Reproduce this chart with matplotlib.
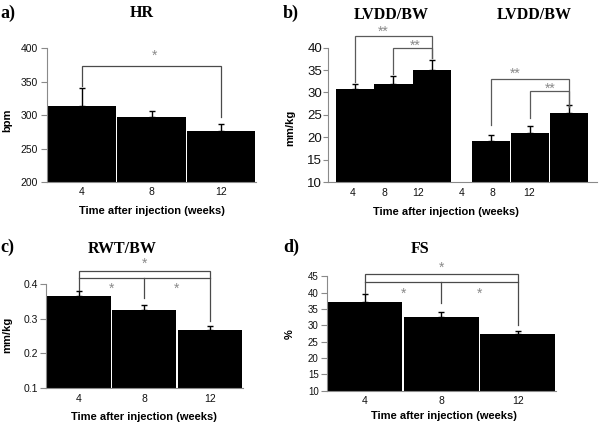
import matplotlib
matplotlib.use("Agg")
import matplotlib.pyplot as plt
import numpy as np

# ---------------- data ----------------
weeks = ['4', '8', '12']
hr_mean = [313, 296.5, 276]
hr_sem = [27.5, 9, 11]

lvdd_x = [0, 1, 2, 3.5, 4.5, 5.5]
lvdd_mean = [30.7, 32.0, 35.1, 19.2, 20.9, 25.35]
lvdd_sem = [1.3, 1.75, 2.1, 1.2, 1.5, 1.75]
lvdd_tick_labels = ['4', '8', '12', '4', '8', '12']
lvdd_tick_pos = [-0.05, 0.78, 1.63, 2.75, 3.55, 4.47]

rwt_mean = [0.366, 0.327, 0.268]
rwt_sem = [0.014, 0.012, 0.012]

fs_mean = [37.1, 32.45, 27.25]
fs_sem = [2.6, 1.65, 1.0]

SANS = 'Liberation Sans'
SERIF = 'Liberation Serif'
SPINE = '#8a8a8a'
BRK = '#4a4a4a'
STAR = '#8a8a8a'
STAR_SIZE = 10

W, H = 600, 424
fig = plt.figure(figsize=(6, 4.24), dpi=100)


def rect(x0, x1, y0, y1):
    return [x0 / W, 1 - y1 / H, (x1 - x0) / W, (y1 - y0) / H]


def style(ax, ysize, xsize, ylen, ypad, xpad):
    for s in ('top', 'right'):
        ax.spines[s].set_visible(False)
    for s in ('left', 'bottom'):
        ax.spines[s].set_color(SPINE)
        ax.spines[s].set_linewidth(0.8)
    ax.tick_params(axis='y', length=ylen, width=0.8, color=SPINE, pad=ypad,
                   labelsize=ysize, labelcolor='#111111')
    ax.tick_params(axis='x', length=0, pad=xpad, labelsize=xsize, labelcolor='#111111')
    for lab in ax.get_xticklabels() + ax.get_yticklabels():
        lab.set_fontfamily(SANS)


def draw_bars(ax, x, mean, sem, ymin, width):
    mean = np.asarray(mean, dtype=float)
    ax.bar(x, mean - ymin, bottom=ymin, width=width, color='black',
           edgecolor='none', zorder=2)
    ax.errorbar(x, mean, yerr=[np.zeros(len(sem)), sem], fmt='none',
                ecolor='black', elinewidth=1.0, capsize=2.5, capthick=1.0, zorder=3)


def bracket(ax, x0, x1, y, yl, yr, color=BRK, lw=0.9):
    ax.plot([x0, x0, x1, x1], [yl, y, y, yr], color=color, lw=lw,
            clip_on=False, solid_joinstyle='miter', zorder=4)


def star(ax, x, y, s='*'):
    ax.text(x, y, s, color=STAR, fontsize=STAR_SIZE, ha='center', va='center',
            family=SANS)


def labels(ax, xl, xlab_px, yl, ylab_px, rect_px, xsize=8, ysize=8):
    x0, x1, y0, y1 = rect_px
    ax.set_xlabel(xl, fontfamily=SANS, fontweight='bold', fontsize=xsize)
    ax.xaxis.label.set_va('center')
    ax.xaxis.set_label_coords((xlab_px[0] - x0) / (x1 - x0), (y1 - xlab_px[1]) / (y1 - y0))
    ax.set_ylabel(yl, fontfamily=SANS, fontweight='bold', fontsize=ysize)
    ax.yaxis.label.set_va('center')
    ax.yaxis.set_label_coords((ylab_px[0] - x0) / (x1 - x0), (y1 - ylab_px[1]) / (y1 - y0))


XLAB = 'Time after injection (weeks)'

# ---------------- panel a: HR ----------------
ra = (47, 256, 48, 182)
axa = fig.add_axes(rect(*ra))
xa = np.arange(3)
draw_bars(axa, xa, hr_mean, hr_sem, 200, 0.985)
axa.set_xlim(-0.5, 2.5)
axa.set_ylim(200, 400)
axa.set_yticks([200, 250, 300, 350, 400])
axa.set_xticks(xa)
axa.set_xticklabels(weeks)
style(axa, 7.5, 7.5, 4.5, 2.0, 3.5)
labels(axa, XLAB, (152, 211), 'bpm', (7, 120), ra)
bracket(axa, 0, 2, 373.5, 343, 297)
star(axa, 1.04, 389)

# ---------------- panel b: LVDD/BW ----------------
rb = (328, 597, 47.7, 182)
axb = fig.add_axes(rect(*rb))
draw_bars(axb, lvdd_x, lvdd_mean, lvdd_sem, 10, 0.975)
axb.set_xlim(-0.68, 6.22)
axb.set_ylim(10, 40)
axb.set_yticks([10, 15, 20, 25, 30, 35, 40])
axb.set_xticks(lvdd_tick_pos)
axb.set_xticklabels(lvdd_tick_labels)
style(axb, 9.5, 7.5, 3.5, 0.8, 4.0)
labels(axb, XLAB, (445.5, 211.5), 'mm/kg', (290, 128), rb)
bracket(axb, 0, 2, 42.6, 32.4, 37.6, color='#5a5a5a')
bracket(axb, 1, 2, 39.9, 34.1, 37.6, color='#5a5a5a')
bracket(axb, 3.5, 5.5, 32.9, 22.7, 26.8, color='#5a5a5a')
bracket(axb, 4.5, 5.5, 30.3, 24.2, 26.8, color='#5a5a5a')
for sx, sy in [(0.73, 43.5), (1.55, 40.5), (4.13, 34.1), (5.03, 30.9)]:
    star(axb, sx, sy, '**')

# ---------------- panel c: RWT/BW ----------------
rc = (46, 242.5, 284.3, 388)
axc = fig.add_axes(rect(*rc))
xc = np.arange(3)
draw_bars(axc, xc, rwt_mean, rwt_sem, 0.1, 0.98)
axc.set_xlim(-0.5, 2.5)
axc.set_ylim(0.1, 0.4)
axc.set_yticks([0.1, 0.2, 0.3, 0.4])
axc.set_xticks(xc)
axc.set_xticklabels(weeks)
style(axc, 7.5, 7.5, 4.5, 1.5, 4.0)
labels(axc, XLAB, (143.5, 417), 'mm/kg', (7, 335), rc)
bracket(axc, 0, 2, 0.4376, 0.3826, 0.293)
bracket(axc, 0, 2, 0.418, 0.418, 0.418)
axc.plot([1, 1], [0.418, 0.360], color=BRK, lw=0.9, clip_on=False, zorder=4)
star(axc, 1, 0.460)
star(axc, 0.5, 0.388)
star(axc, 1.5, 0.388)

# ---------------- panel d: FS ----------------
rd = (326.7, 556, 276.3, 390.7)
axd = fig.add_axes(rect(*rd))
xd = np.arange(3)
draw_bars(axd, xd, fs_mean, fs_sem, 10, 0.98)
axd.set_xlim(-0.5, 2.5)
axd.set_ylim(10, 45)
axd.set_yticks([10, 15, 20, 25, 30, 35, 40, 45])
axd.set_xticks(xd)
axd.set_xticklabels(weeks)
style(axd, 7, 7.5, 4.5, 1.2, 4.0)
labels(axd, XLAB, (444, 416), '%', (290, 334), rd)
bracket(axd, 0, 2, 45.8, 40.0, 30.0)
bracket(axd, 0, 2, 43.26, 43.26, 43.26)
axd.plot([1, 1], [43.26, 36.9], color=BRK, lw=0.9, clip_on=False, zorder=4)
star(axd, 1, 47.7)
star(axd, 0.5, 39.5)
star(axd, 1.5, 39.5)

# ---------------- titles & panel letters ----------------
def ftext(px, py, s, size, ha='center'):
    fig.text(px / W, 1 - py / H, s, fontsize=size, fontweight='bold', family=SERIF,
             ha=ha, va='center')

ftext(0, 13.5, 'a)', 13, ha='left')
ftext(283, 13.5, 'b)', 13, ha='left')
ftext(0, 247, 'c)', 13, ha='left')
ftext(283, 247, 'd)', 13, ha='left')
ftext(141.7, 12.7, 'HR', 11.5)
ftext(391, 15, 'LVDD/BW', 11.5)
ftext(534, 15, 'LVDD/BW', 11.5)
ftext(121.7, 248.7, 'RWT/BW', 11.5)
ftext(420, 248.7, 'FS', 11.5)

fig.savefig('out.png', dpi=100)
